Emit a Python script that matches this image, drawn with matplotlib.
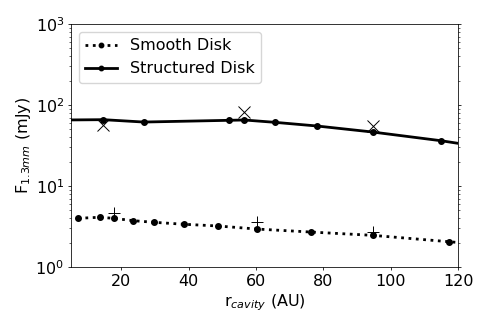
import matplotlib
matplotlib.use("Agg")
import matplotlib.pyplot as plt

# Smooth disk model
smooth_r = [7.1, 13.5, 17.7, 23.5, 29.8, 38.5, 48.6, 60.3, 76.4, 94.6, 117.4, 140.0]
smooth_f = [3.99, 4.11, 3.99, 3.73, 3.56, 3.37, 3.21, 2.94, 2.70, 2.46, 2.05, 1.71]

# Structured disk model
struct_r = [3.0, 14.6, 26.6, 51.9, 56.5, 65.6, 78.0, 94.6, 115.0, 135.0]
struct_f = [65.3, 65.9, 61.6, 64.7, 65.3, 61.1, 55.1, 46.4, 36.2, 27.0]

# Comparison markers
plus_r = [17.7, 60.3, 94.6]
plus_f = [4.6, 3.56, 2.73]
cross_r = [14.6, 56.5, 94.6]
cross_f = [56.6, 81.3, 55.1]

s = 0.7
plt.rcParams.update({
    'xtick.major.size': 3.5 * s, 'ytick.major.size': 3.5 * s,
    'xtick.minor.size': 2 * s, 'ytick.minor.size': 2 * s,
    'xtick.major.pad': 3.5 * s, 'ytick.major.pad': 3.5 * s,
    'xtick.major.width': 0.8 * s, 'ytick.major.width': 0.8 * s,
    'xtick.minor.width': 0.6 * s, 'ytick.minor.width': 0.6 * s,
    'axes.linewidth': 0.8 * s,
    'axes.labelpad': 4 * s,
})

fig = plt.figure(figsize=(4.91, 3.27), dpi=100)
ax = fig.add_axes([0.1446, 0.1835, 0.7882, 0.7431])

ax.plot(smooth_r, smooth_f, 'k:', marker='o', ms=4, lw=2, label='Smooth Disk')
ax.plot(struct_r, struct_f, 'k-', marker='o', ms=4, lw=2, label='Structured Disk')
ax.plot(plus_r, plus_f, 'k+', ms=8, mew=0.7, ls='none')
ax.plot(cross_r, cross_f, 'kx', ms=8, mew=0.7, ls='none')

ax.set_yscale('log')
ax.set_xlim(5, 120)
ax.set_ylim(1, 1000)
ax.tick_params(axis='y', which='both', right=True)
ax.tick_params(labelsize=11.5)
ax.set_xlabel(r'r$_{cavity}$ (AU)', fontsize=11.5)
ax.set_ylabel(r'F$_{1.3mm}$ (mJy)', fontsize=11.5)
ax.yaxis.set_label_coords(-0.098, 0.5)
ax.legend(loc='upper left', fontsize=11.5, markerscale=0.8)

fig.savefig('out.png', dpi=100)
